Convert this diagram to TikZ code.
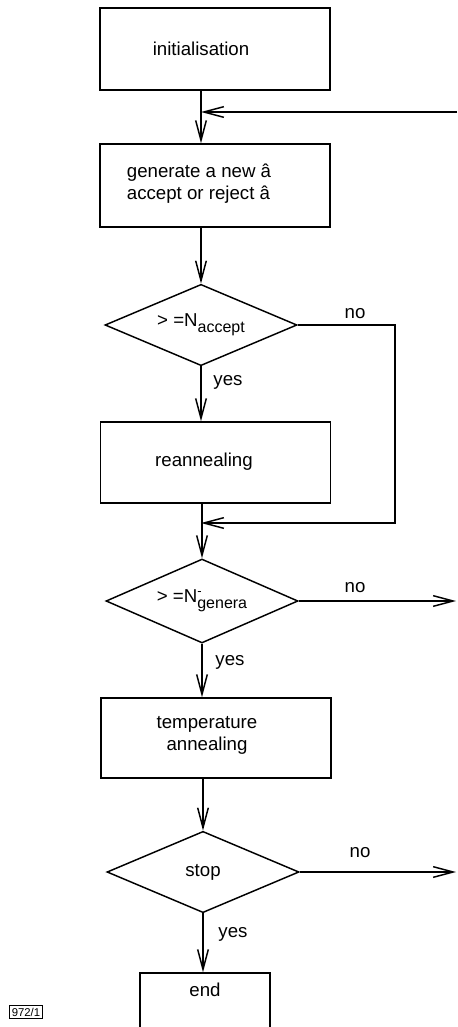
\documentclass[tikz,border=0pt]{standalone}
\usepackage{fontspec}
\setmainfont{Liberation Sans}
\usetikzlibrary{shapes.geometric,arrows.meta}

\newcommand{\lowsub}[1]{\raisebox{-4.5pt}{\fontsize{12}{12}\selectfont #1}}

\tikzset{every picture/.style={line width=1.1pt}}
\tikzset{
  stepbox/.style={draw, rectangle, inner sep=0pt, minimum width=172.5pt},
  steptext/.style={inner sep=0.75pt, align=center, font=\fontsize{14}{16.5}\selectfont},
  testbox/.style={draw, diamond, aspect=2.4, inner sep=0pt, minimum width=144pt, minimum height=61pt, font=\fontsize{14}{16.5}\selectfont},
  answer/.style={inner sep=0.75pt, font=\fontsize{14}{16.5}\selectfont},
  flow/.style={-{Straight Barb[length=15pt,width=8pt]}}
}

\begin{document}
\begin{tikzpicture}[x=0.75pt,y=0.75pt,yscale=-1,xscale=1]
\useasboundingbox (0,0) rectangle (457,1027);

%Shape: Rectangle [init]
\node [stepbox, minimum height=61.5pt] (init) at (215,49) {};
\node [steptext] (initT) at (201,49) {initialisation};
%Shape: Rectangle [generate]
\node [stepbox, minimum height=62.25pt] (gen) at (215,185.5) {};
\node [steptext, align=left] (genT) at (199,184) {generate a new â\\accept or reject â};
%Shape: Diamond [accept test]
\node [testbox] (acc) at (201,325) {> =N\lowsub{accept}};
%Shape: Rectangle [reannealing]
\node [stepbox, minimum height=60.75pt] (rean) at (215.5,462.5) {};
\node [steptext] (reanT) at (204,462) {reannealing};
%Shape: Diamond [genera test]
\node [testbox, minimum height=63pt] (gen2) at (202,601) {> =N\rlap{\textsuperscript{-}}\lowsub{genera}};
%Shape: Rectangle [temperature]
\node [stepbox, minimum height=60pt] (temp) at (216,738) {};
\node [steptext] (tempT) at (207,735) {temperature\\annealing};
%Shape: Diamond [stop test]
\node [testbox] (stop) at (203,872) {stop};
%Shape: Rectangle [end]
\node [stepbox, minimum width=97.5pt, minimum height=52.5pt] (end) at (205,1008) {};
\node [steptext] (endT) at (205,990) {end};

% free ends at the right margin
\coordinate (loopin) at (457,112);
\coordinate (outr) at (456,0);
\coordinate (merge) at (201,523);
\coordinate (accr) at (395,523);

% Connectors
\draw [flow] (init.south -| acc.north) -- (gen.north -| acc.north);
\draw [flow] (loopin) -- (loopin -| acc.north);
\draw [flow] (gen.south -| acc.north) -- (acc.north);
\draw [flow] (acc.south) -- (acc.south |- rean.north);
\draw [flow] (acc.east) -| (accr) -- (merge);
\draw [flow] (rean.south -| gen2.north) -- (gen2.north);
\draw [flow] (gen2.east) -- (gen2.east -| outr);
\draw [flow] (gen2.south) -- (gen2.south |- temp.north);
\draw [flow] (temp.south -| stop.north) -- (stop.north);
\draw [flow] (stop.east) -- (stop.east -| outr);
\draw [flow] (stop.south) -- (stop.south |- end.north);

% Text Node
\node [answer] (no1) at (355,314) {no};
% Text Node
\node [answer] (yes1) at (228,382) {yes};
% Text Node
\node [answer] (no2) at (355,588) {no};
% Text Node
\node [answer] (yes2) at (230,662) {yes};
% Text Node
\node [answer] (no3) at (360,853) {no};
% Text Node
\node [answer] (yes3) at (233,934) {yes};
% Text Node
\node [draw, line width=0.6pt, inner sep=1.5pt, font=\fontsize{8.5}{9}\selectfont] (plate) at (26,1012) {972/1};

\end{tikzpicture}
\end{document}
